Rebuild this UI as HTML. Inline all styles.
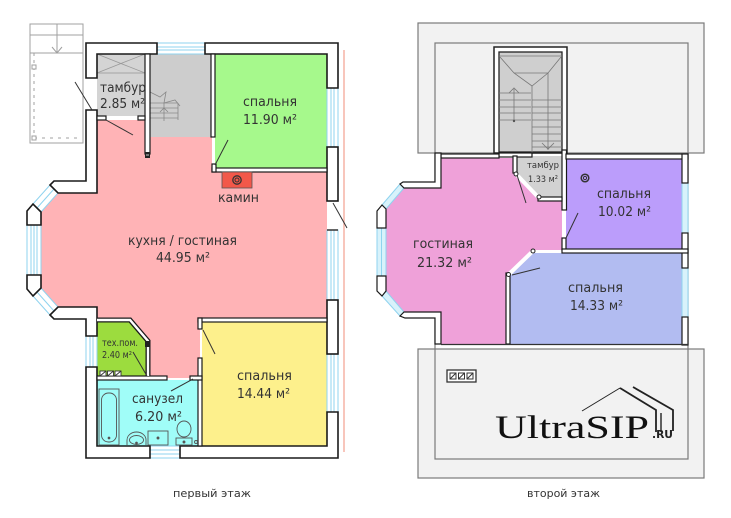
<!DOCTYPE html>
<html><head><meta charset="utf-8"><style>
html,body{margin:0;padding:0;background:#fff;}
svg{display:block;}
text{font-family:"DejaVu Sans","Liberation Sans",sans-serif;fill:#333;}
</style></head><body>
<svg width="731" height="518" viewBox="0 0 731 518" xmlns="http://www.w3.org/2000/svg">
<!-- ================= LEFT PLAN ================= -->
<g stroke="#a0a0a0" stroke-width="1" fill="none">
<rect x="30" y="24" width="53" height="119"/>
<line x1="30" y1="35" x2="83" y2="35"/>
<line x1="30" y1="53" x2="83" y2="53"/>
<line x1="34" y1="53" x2="34" y2="138" stroke-dasharray="3,4"/>
<line x1="34" y1="138" x2="78" y2="138" stroke-dasharray="3,5"/>
<line x1="57" y1="24" x2="57" y2="53"/>
<polyline points="52,47 57,53 62,47"/>
<rect x="32" y="65" width="4" height="4" fill="#fff"/>
<rect x="32" y="136" width="4" height="4" fill="#fff"/>
</g>
<line x1="344" y1="50" x2="344" y2="452" stroke="#f5b4a6" stroke-width="1.5"/>

<!-- room fills -->
<polygon fill="#ffb3b6" points="97,120 150,120 150,137 212,137 212,172 327,172 327,320 200,320 200,378 148,378 148,341 130,320 97,320 97,307 58,307 41,290 41,212 58,193 97,193"/>
<rect x="97" y="54" width="48" height="62" fill="#d4d4d4"/>
<rect x="150" y="54" width="62" height="83" fill="#cdcdcd"/>
<rect x="215" y="54" width="112" height="114" fill="#a6f98c"/>
<polygon fill="#9cdc3e" points="97,320 130,320 148,341 148,378 97,378"/>
<rect x="97" y="380" width="101" height="66" fill="#a0fdf8"/>
<rect x="202" y="322" width="125" height="124" fill="#fdf08c"/>

<g stroke="#999" stroke-width="0.8" fill="none">
<rect x="97" y="54" width="48" height="19"/>
<line x1="97" y1="54" x2="145" y2="73"/>
<line x1="145" y1="54" x2="97" y2="73"/>
</g>
<g stroke="#888" stroke-width="0.8" fill="none">
<polyline points="150,92 160,97 166,92 164,103 175,100 180,106"/>
<line x1="150" y1="103" x2="178" y2="103"/>
<line x1="150" y1="108" x2="178" y2="108"/>
<line x1="150" y1="113" x2="178" y2="113"/>
<line x1="150" y1="118" x2="178" y2="118"/>
<line x1="164" y1="103" x2="164" y2="121"/>
<line x1="178" y1="103" x2="178" y2="120"/>
<polyline points="160,112 164,108 168,112"/>
</g>

<g fill="#fff" stroke="#8fd3ef" stroke-width="1">
<rect x="157" y="43" width="48" height="11"/>
<line x1="157" y1="47" x2="205" y2="47"/><line x1="157" y1="50" x2="205" y2="50"/>
<rect x="327" y="88" width="11" height="59"/>
<line x1="331" y1="88" x2="331" y2="147"/><line x1="334" y1="88" x2="334" y2="147"/>
<rect x="327" y="230" width="11" height="70"/>
<line x1="331" y1="230" x2="331" y2="300"/><line x1="334" y1="230" x2="334" y2="300"/>
<rect x="327" y="354" width="11" height="58"/>
<line x1="331" y1="354" x2="331" y2="412"/><line x1="334" y1="354" x2="334" y2="412"/>
<rect x="86" y="336" width="11" height="31"/>
<line x1="90" y1="336" x2="90" y2="367"/><line x1="93" y1="336" x2="93" y2="367"/>
<rect x="150" y="446" width="30" height="12"/>
<line x1="150" y1="450" x2="180" y2="450"/><line x1="150" y1="454" x2="180" y2="454"/>
<rect x="27" y="225" width="14" height="50"/>
<line x1="31" y1="225" x2="31" y2="275"/><line x1="34" y1="225" x2="34" y2="275"/><line x1="37" y1="225" x2="37" y2="275"/>
<polygon points="50,185 58,193 41,212 33,204"/>
<line x1="54" y1="189" x2="37" y2="208"/>
<polygon points="41,288 58,307 50,315 33,296"/>
<line x1="37" y1="292" x2="54" y2="311"/>
</g>

<g fill="#fff" stroke="#1a1a1a" stroke-width="1.6" stroke-linejoin="miter">
<polygon points="86,43 157,43 157,54 97,54 97,78 86,78"/>
<polygon points="205,43 338,43 338,88 327,88 327,54 205,54"/>
<rect x="327" y="147" width="11" height="54"/>
<rect x="327" y="300" width="11" height="54"/>
<polygon points="180,446 327,446 327,412 338,412 338,458 180,458"/>
<polygon points="86,367 97,367 97,446 150,446 150,458 86,458"/>
<polygon points="86,110 97,110 97,193 58,193 50,185 54,181 86,181"/>
<polygon points="27,211 33,204 41,212 41,225 27,225"/>
<polygon points="27,275 41,275 41,288 33,296 27,289"/>
<polygon points="50,315 58,307 97,307 97,336 86,336 86,319 54,319"/>
</g>
<g fill="#fff" stroke="#1a1a1a" stroke-width="1.2">
<rect x="145" y="54" width="5" height="100"/>
<rect x="97" y="116" width="9" height="4"/>
<rect x="138" y="116" width="7" height="4"/>
<rect x="211" y="54" width="4" height="83"/>
<rect x="212" y="168" width="115" height="4"/>
<rect x="212" y="164" width="4" height="8"/>
<rect x="198" y="318" width="129" height="4"/>
<rect x="198" y="318" width="4" height="11"/>
<rect x="198" y="358" width="4" height="88"/>
<rect x="97" y="376" width="70" height="4"/>
<rect x="190" y="376" width="12" height="4"/>
</g>
<path d="M97,320 L130,320 L148,341 L148,376" fill="none" stroke="#1a1a1a" stroke-width="5"/>
<path d="M97,320 L130,320 L148,341 L148,376" fill="none" stroke="#fff" stroke-width="2.4"/>
<rect x="145" y="152" width="5" height="6" fill="#222"/>
<rect x="146" y="154" width="3" height="2" fill="#777"/>
<rect x="145" y="341" width="5" height="6" fill="#222"/>
<g stroke="#333" stroke-width="1" fill="none">
<line x1="75" y1="82" x2="92" y2="110"/>
<line x1="106" y1="120" x2="133" y2="135"/>
<line x1="215" y1="165" x2="228" y2="140"/>
<line x1="333" y1="203" x2="347" y2="228"/>
<line x1="203" y1="330" x2="215" y2="354"/>
<line x1="133" y1="352" x2="147" y2="376"/>
<line x1="193" y1="379" x2="171" y2="391"/>
<line x1="327" y1="230" x2="338" y2="230" stroke-width="1.5"/>
</g>
<rect x="222" y="172" width="30" height="16" fill="#f2584a" stroke="#555" stroke-width="0.8"/>
<circle cx="237" cy="180" r="4.2" fill="none" stroke="#333" stroke-width="1.3"/>
<circle cx="237" cy="180" r="2" fill="none" stroke="#333" stroke-width="1"/>
<g stroke="#333" stroke-width="0.9" fill="#fff">
<rect x="100" y="371" width="6" height="5"/><rect x="107.5" y="371" width="6" height="5"/><rect x="115" y="371" width="6" height="5"/>
<line x1="100" y1="376" x2="106" y2="371"/><line x1="107.5" y1="376" x2="113.5" y2="371"/><line x1="115" y1="376" x2="121" y2="371"/>
</g>
<g stroke="#555" stroke-width="0.9" fill="none">
<rect x="99" y="389" width="20" height="56"/>
<rect x="101.5" y="393" width="15" height="49" rx="7"/>
<circle cx="109" cy="438" r="0.9" fill="#555"/>
<path d="M127,445 L127,440 A9.5,8 0 0 1 146,440 L146,445"/>
<ellipse cx="136.5" cy="440" rx="7" ry="4.5"/>
<circle cx="136.5" cy="443" r="0.9" fill="#555"/>
<rect x="148" y="431" width="20" height="14"/>
<circle cx="158" cy="438" r="1" fill="#555"/>
<ellipse cx="184" cy="429" rx="7" ry="8"/>
<rect x="176" y="438" width="16" height="7"/>
<circle cx="184" cy="442" r="1" fill="#555"/>
<circle cx="196" cy="442" r="1.5"/>
</g>

<text x="100" y="92" font-size="13" textLength="46" lengthAdjust="spacingAndGlyphs">тамбур</text>
<text x="100" y="108" font-size="13" textLength="45" lengthAdjust="spacingAndGlyphs">2.85 м²</text>
<text x="243" y="106" font-size="13" textLength="54" lengthAdjust="spacingAndGlyphs">спальня</text>
<text x="243" y="124" font-size="13" textLength="54" lengthAdjust="spacingAndGlyphs">11.90 м²</text>
<text x="218" y="202" font-size="13" textLength="41" lengthAdjust="spacingAndGlyphs">камин</text>
<text x="128" y="245" font-size="13" textLength="109" lengthAdjust="spacingAndGlyphs">кухня / гостиная</text>
<text x="156" y="262" font-size="13" textLength="54" lengthAdjust="spacingAndGlyphs">44.95 м²</text>
<text x="102" y="346" font-size="9.5" textLength="36" lengthAdjust="spacingAndGlyphs">тех.пом.</text>
<text x="102" y="358" font-size="9.5" textLength="30" lengthAdjust="spacingAndGlyphs">2.40 м²</text>
<text x="132" y="403" font-size="13" textLength="51" lengthAdjust="spacingAndGlyphs">санузел</text>
<text x="135" y="421" font-size="13" textLength="47" lengthAdjust="spacingAndGlyphs">6.20 м²</text>
<text x="237" y="380" font-size="13" textLength="55" lengthAdjust="spacingAndGlyphs">спальня</text>
<text x="237" y="398" font-size="13" textLength="53" lengthAdjust="spacingAndGlyphs">14.44 м²</text>
<text x="173" y="497" font-size="11" textLength="78" lengthAdjust="spacingAndGlyphs">первый этаж</text>

<!-- ================= RIGHT PLAN ================= -->
<rect x="418" y="23" width="286" height="130" fill="#f2f2f2" stroke="#7a7a7a" stroke-width="1.2"/>
<rect x="418" y="349" width="286" height="129" fill="#f2f2f2" stroke="#7a7a7a" stroke-width="1.2"/>
<rect x="435" y="43" width="253" height="416" fill="none" stroke="#7a7a7a" stroke-width="1.2"/>

<rect x="494" y="47" width="73" height="106" fill="#fff" stroke="#222" stroke-width="1.5"/>
<rect x="499" y="52" width="63" height="100" fill="#cfcfcf" stroke="#222" stroke-width="1.3"/>
<g stroke="#777" stroke-width="0.8" fill="none">
<line x1="499" y1="56" x2="562" y2="56"/>
<polyline points="500,57 514,73 532,86 548,73 561,57"/>
<line x1="514" y1="73" x2="548" y2="73"/>
<line x1="532" y1="86" x2="532" y2="153"/>
<line x1="499" y1="93" x2="531" y2="93"/>
<line x1="499" y1="100" x2="531" y2="100"/>
<line x1="499" y1="107" x2="531" y2="107"/>
<line x1="499" y1="113" x2="531" y2="113"/>
<line x1="499" y1="120" x2="531" y2="120"/>
<line x1="532" y1="100" x2="562" y2="100"/>
<line x1="532" y1="107" x2="562" y2="107"/>
<line x1="532" y1="113" x2="562" y2="113"/>
<line x1="532" y1="120" x2="562" y2="120"/>
<line x1="532" y1="127" x2="562" y2="127"/>
<line x1="532" y1="134" x2="562" y2="134"/>
<line x1="532" y1="141" x2="562" y2="141"/>
<line x1="532" y1="147" x2="562" y2="147"/>
<line x1="514" y1="89" x2="514" y2="121"/>
<polyline points="509,93 514,88 519,93"/>
<line x1="548" y1="73" x2="548" y2="150"/>
<polyline points="542,143 548,149 554,143"/>
</g>
<circle cx="514" cy="121" r="1.2" fill="#555"/>

<polygon fill="#efa1d9" points="441,158 513,158 513,172 540,198 562,198 562,250 533,250 510,273 510,344 441,344 441,312 404,312 386,291 386,209 404,188 441,188"/>
<polygon fill="#d2d2d2" points="513,156 562,156 562,198 540,198 517,174 513,172"/>
<rect x="566" y="159" width="116" height="90" fill="#bb9dfb"/>
<polygon fill="#b2bcf1" points="533,253 682,253 682,344 510,344 510,276"/>

<g fill="#fff" stroke="#8fd3ef" stroke-width="1">
<rect x="682" y="183" width="6" height="50" fill="#d8f2fb"/>
<rect x="682" y="268" width="6" height="49" fill="#d8f2fb"/>
<rect x="377" y="228" width="9" height="48" fill="#d8f2fb"/>
<line x1="381.5" y1="228" x2="381.5" y2="276"/>
<polygon points="382,205 386,209 404,188 400,184" fill="#d8f2fb"/>
<polygon points="386,291 382,296 400,316 404,312" fill="#d8f2fb"/>
</g>

<g fill="#fff" stroke="#1a1a1a" stroke-width="1.2">
<rect x="562" y="150" width="4.5" height="60"/>
<rect x="562" y="238" width="4" height="12"/>
<rect x="499" y="153" width="33" height="4"/>
<rect x="441" y="154" width="58" height="4"/>
<rect x="566" y="154" width="122" height="5"/>
<polygon points="435,153 441,153 441,188 404,188 400,184 403,182 435,182"/>
<polygon points="377,211 382,205 386,209 386,228 377,228"/>
<polygon points="377,276 386,276 386,291 382,296 377,291"/>
<polygon points="400,316 404,312 441,312 441,344 435,344 435,318 405,318"/>
<rect x="682" y="154" width="6" height="29"/>
<rect x="682" y="233" width="6" height="35"/>
<rect x="682" y="317" width="6" height="28"/>
<rect x="562" y="249" width="126" height="4"/>
<rect x="506" y="273" width="4" height="71"/>
<rect x="513" y="156" width="4" height="17"/>
<rect x="538" y="197" width="24" height="4"/>
</g>
<line x1="441" y1="344.5" x2="688" y2="344.5" stroke="#333" stroke-width="1.2"/>
<line x1="517" y1="175" x2="538" y2="197" stroke="#fff" stroke-width="4"/>
<line x1="509" y1="274" x2="533" y2="251" stroke="#fff" stroke-width="4"/>
<circle cx="516" cy="174" r="2" fill="#fff" stroke="#222" stroke-width="1"/>
<circle cx="539" cy="197" r="2" fill="#fff" stroke="#222" stroke-width="1"/>
<circle cx="508.5" cy="274.5" r="2" fill="#fff" stroke="#222" stroke-width="1"/>
<circle cx="533" cy="251" r="2" fill="#fff" stroke="#222" stroke-width="1"/>
<g stroke="#333" stroke-width="1" fill="none">
<line x1="517" y1="175" x2="526" y2="203"/>
<line x1="566" y1="238" x2="578" y2="213"/>
<line x1="512" y1="275" x2="540" y2="268"/>
</g>
<circle cx="585" cy="178" r="3.8" fill="none" stroke="#333" stroke-width="1.5"/>
<circle cx="585" cy="178" r="1.6" fill="none" stroke="#333" stroke-width="1"/>

<g stroke="#333" stroke-width="1" fill="#fff">
<rect x="447" y="370" width="29" height="12" stroke-width="1.3"/>
<rect x="450" y="373" width="6" height="6"/><rect x="458.5" y="373" width="6" height="6"/><rect x="467" y="373" width="6" height="6"/>
<line x1="450" y1="379" x2="456" y2="373"/><line x1="458.5" y1="379" x2="464.5" y2="373"/><line x1="467" y1="379" x2="473" y2="373"/>
</g>

<g fill="none" stroke="#222">
<line x1="582" y1="411" x2="620" y2="388" stroke-width="1"/>
<polyline points="620,388 656,410 656,432" stroke-width="1.8"/>
<line x1="661" y1="413" x2="661" y2="432" stroke-width="1.4"/>
<polyline points="633,387 673,410 673,431" stroke-width="1.8"/>
</g>
<text x="495" y="438" font-size="33" textLength="154" lengthAdjust="spacingAndGlyphs" style="font-family:'Liberation Serif','DejaVu Serif',serif;fill:#111;">UltraSIP</text>
<text x="652" y="438" font-size="11" font-weight="bold" textLength="21" lengthAdjust="spacingAndGlyphs" style="fill:#222;">.RU</text>

<text x="413" y="248" font-size="13" textLength="60" lengthAdjust="spacingAndGlyphs">гостиная</text>
<text x="417" y="267" font-size="13" textLength="55" lengthAdjust="spacingAndGlyphs">21.32 м²</text>
<text x="527" y="168" font-size="9" textLength="32" lengthAdjust="spacingAndGlyphs">тамбур</text>
<text x="528" y="182" font-size="9" textLength="30" lengthAdjust="spacingAndGlyphs">1.33 м²</text>
<text x="597" y="198" font-size="13" textLength="54" lengthAdjust="spacingAndGlyphs">спальня</text>
<text x="598" y="216" font-size="13" textLength="53" lengthAdjust="spacingAndGlyphs">10.02 м²</text>
<text x="568" y="292" font-size="13" textLength="55" lengthAdjust="spacingAndGlyphs">спальня</text>
<text x="570" y="310" font-size="13" textLength="53" lengthAdjust="spacingAndGlyphs">14.33 м²</text>
<text x="527" y="497" font-size="11" textLength="73" lengthAdjust="spacingAndGlyphs">второй этаж</text>
</svg>
</body></html>
